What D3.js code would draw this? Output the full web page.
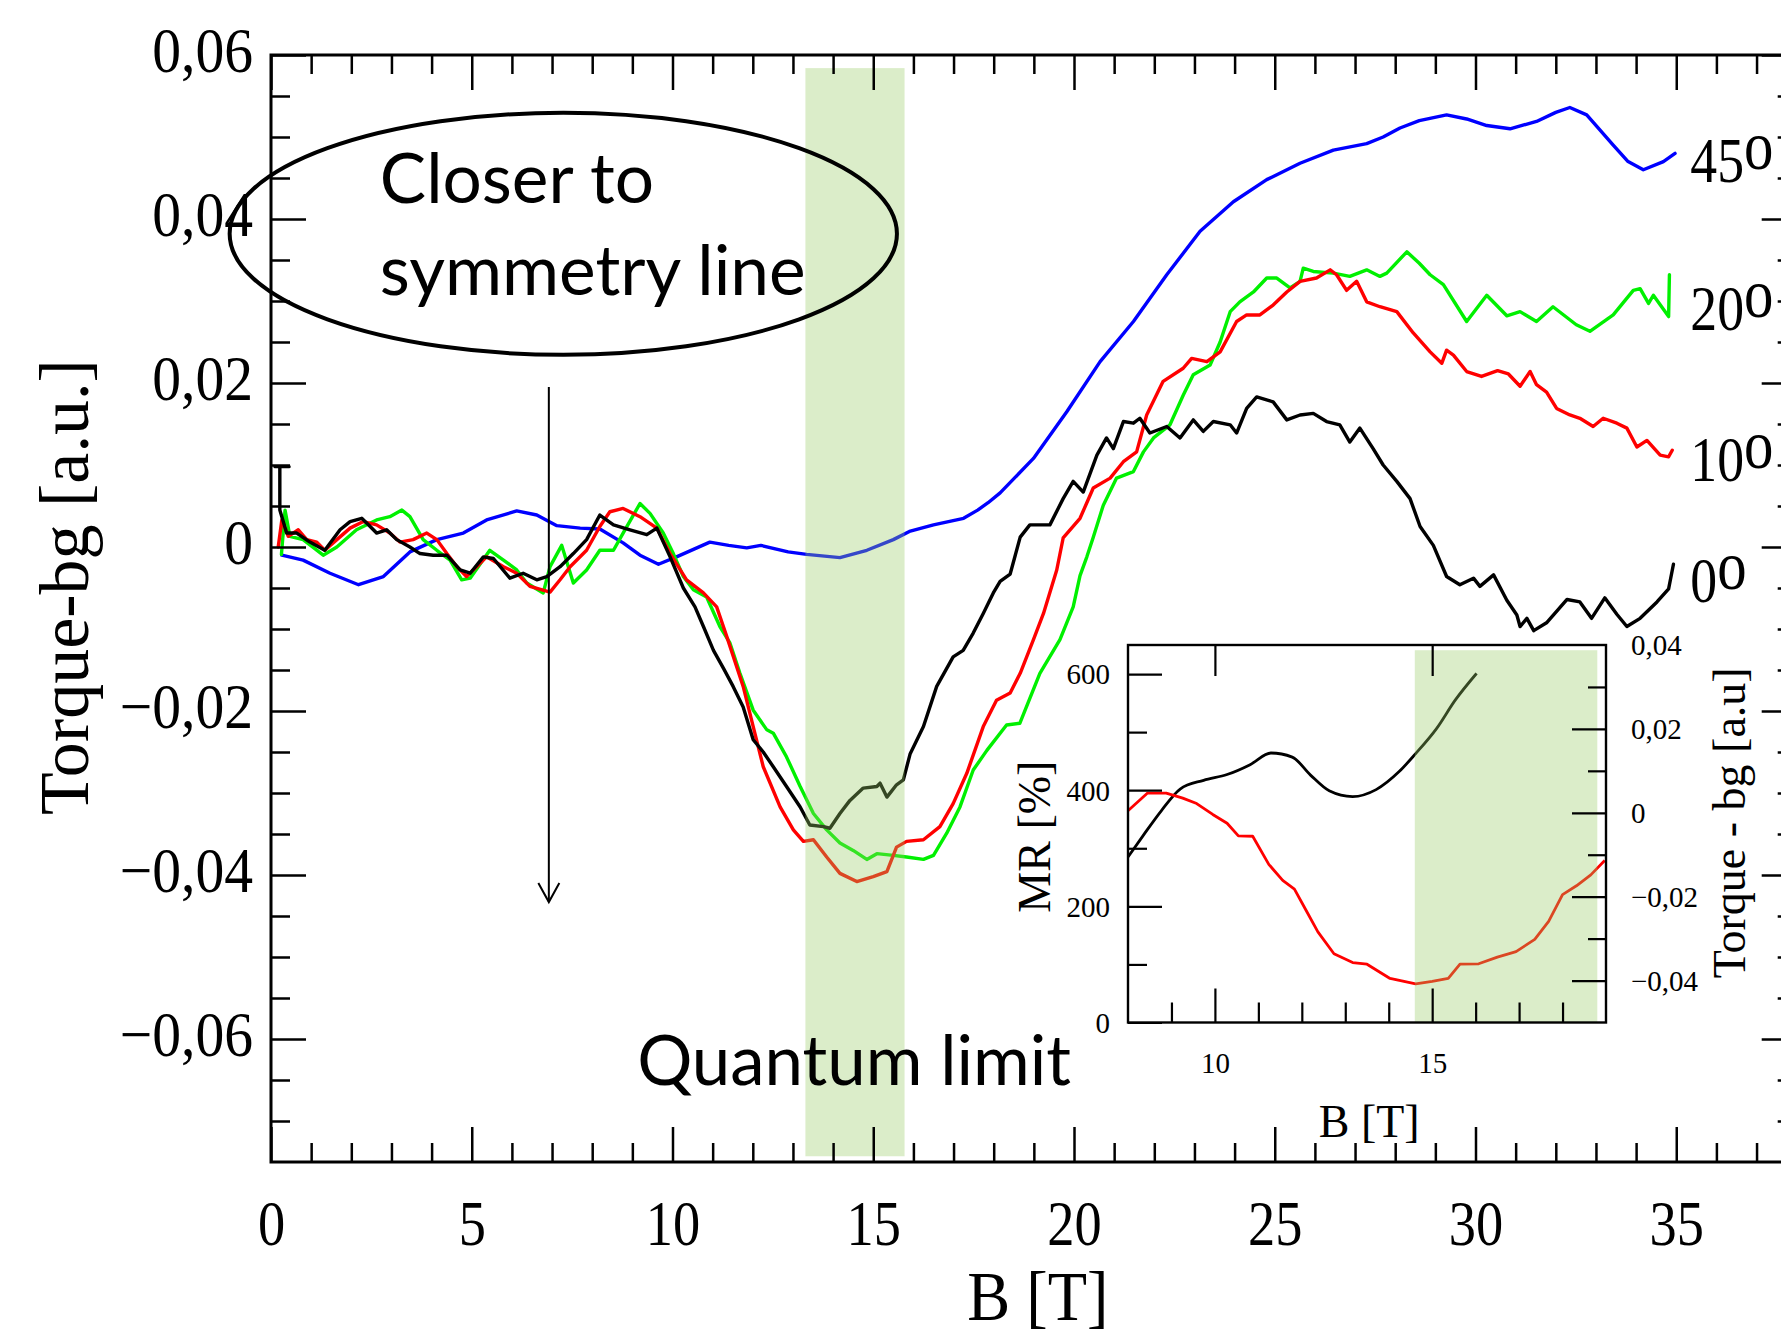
<!DOCTYPE html>
<html><head><meta charset="utf-8">
<script src="https://cdn.jsdelivr.net/npm/d3@7/dist/d3.min.js"></script>
<style>html,body{margin:0;padding:0;background:#fff;} svg{display:block;}</style>
</head><body>
<svg id="chart" width="1781" height="1340"></svg>
<script>
// ---------------- DATA ----------------
// Main panel: Torque-bg [a.u.] vs B [T]
const seriesNames = ["45", "20", "10", "0"];
const seriesColors = ["#0000ff", "#00f000", "#ff0000", "#000000"];

const blue45 = [[0.27,-0.0010],[0.8,-0.0016],[1.47,-0.0032],[2.18,-0.0046],[2.8,-0.0036],[3.46,-0.0006],[4.13,0.0009],[4.79,0.0017],[5.37,0.0033],[6.12,0.0044],[6.62,0.0039],[7.12,0.0026],[7.7,0.0023],[8.19,0.0022],[8.77,0.0005],[9.19,-0.0010],[9.65,-0.0021],[10.1,-0.0012],[10.93,0.0006],[11.4,0.0002],[11.85,-0.0001],[12.2,0.0002],[12.88,-0.0006],[13.34,-0.0009],[14.17,-0.0013],[14.84,-0.0004],[15.5,0.0009],[15.9,0.0019],[16.5,0.0027],[17.25,0.0035],[17.6,0.0045],[17.86,0.0054],[18.16,0.0066],[18.99,0.0108],[19.82,0.0165],[20.65,0.0226],[21.48,0.0275],[22.31,0.0332],[23.14,0.0385],[23.97,0.0421],[24.8,0.0448],[25.63,0.0468],[26.46,0.0484],[27.29,0.0492],[27.7,0.0500],[28.12,0.0511],[28.6,0.0520],[29.28,0.0527],[29.78,0.0522],[30.28,0.0514],[30.86,0.0510],[31.52,0.0519],[32.0,0.0530],[32.35,0.0536],[32.77,0.0527],[33.43,0.0490],[33.8,0.0470],[34.18,0.0460],[34.68,0.0470],[34.97,0.0480]];

const green20 = [[0.26,-0.0009],[0.35,0.0045],[0.47,0.0013],[0.8,0.0009],[1.3,-0.0010],[1.64,0.0],[2.13,0.0021],[2.63,0.0033],[2.96,0.0037],[3.26,0.0045],[3.46,0.0037],[3.79,0.0009],[4.13,-0.0004],[4.46,-0.0016],[4.75,-0.0040],[4.96,-0.0038],[5.45,-0.0004],[5.79,-0.0016],[6.12,-0.0028],[6.37,-0.0044],[6.78,-0.0056],[6.95,-0.0024],[7.24,0.0002],[7.53,-0.0044],[7.86,-0.0028],[8.19,-0.0004],[8.53,-0.0004],[8.77,0.0017],[9.19,0.0053],[9.44,0.0041],[9.77,0.0017],[10.02,-0.0008],[10.27,-0.0036],[10.52,-0.0052],[10.85,-0.0061],[11.18,-0.0097],[11.43,-0.0117],[11.68,-0.0154],[12.01,-0.0199],[12.35,-0.0223],[12.51,-0.0227],[12.84,-0.0256],[13.18,-0.0292],[13.51,-0.0325],[13.84,-0.0345],[14.17,-0.0361],[14.5,-0.0370],[14.84,-0.0381],[15.09,-0.0374],[15.5,-0.0376],[15.83,-0.0378],[16.25,-0.0381],[16.5,-0.0376],[16.83,-0.0349],[17.16,-0.0317],[17.49,-0.0272],[17.83,-0.0248],[18.32,-0.0217],[18.65,-0.0215],[19.15,-0.0154],[19.65,-0.0113],[19.98,-0.0073],[20.15,-0.0035],[20.32,-0.0012],[20.48,0.0012],[20.73,0.0051],[21.06,0.0084],[21.48,0.0092],[21.73,0.0116],[21.98,0.0133],[22.39,0.0149],[22.72,0.0185],[22.97,0.0210],[23.39,0.0222],[23.64,0.0250],[23.89,0.0287],[24.13,0.0299],[24.47,0.0311],[24.8,0.0328],[25.05,0.0328],[25.38,0.0316],[25.63,0.0324],[25.71,0.0340],[25.96,0.0336],[26.46,0.0334],[26.87,0.0330],[27.29,0.0338],[27.62,0.0330],[27.79,0.0334],[28.29,0.0360],[28.6,0.0346],[28.87,0.0332],[29.2,0.0320],[29.78,0.0275],[30.28,0.0307],[30.78,0.0282],[31.11,0.0287],[31.52,0.0275],[31.93,0.0293],[32.51,0.0271],[32.85,0.0263],[33.43,0.0283],[33.93,0.0313],[34.1,0.0315],[34.31,0.0297],[34.43,0.0307],[34.81,0.0281],[34.83,0.0332]];

const red10 = [[0.18,0.0],[0.27,0.0033],[0.43,0.0013],[0.68,0.0021],[0.89,0.0009],[1.14,0.0006],[1.34,-0.0004],[1.64,0.0009],[1.97,0.0023],[2.3,0.0031],[2.63,0.0027],[2.96,0.0017],[3.21,0.0006],[3.54,0.0009],[3.88,0.0017],[4.13,0.0009],[4.38,-0.0008],[4.63,-0.0024],[4.87,-0.0036],[5.12,-0.0024],[5.37,-0.0012],[5.79,-0.0024],[6.12,-0.0032],[6.45,-0.0048],[6.95,-0.0055],[7.2,-0.0040],[7.45,-0.0024],[7.86,-0.0004],[8.19,0.0025],[8.44,0.0043],[8.77,0.0047],[9.19,0.0037],[9.61,0.0023],[9.94,-0.0008],[10.35,-0.0040],[10.77,-0.0056],[11.1,-0.0073],[11.35,-0.0109],[11.76,-0.0170],[12.01,-0.0219],[12.26,-0.0268],[12.68,-0.0317],[13.01,-0.0345],[13.26,-0.0359],[13.51,-0.0357],[13.84,-0.0378],[14.17,-0.0398],[14.59,-0.0408],[15.0,-0.0402],[15.34,-0.0396],[15.58,-0.0366],[15.83,-0.0359],[16.25,-0.0357],[16.66,-0.0341],[16.99,-0.0313],[17.33,-0.0276],[17.74,-0.0219],[18.07,-0.0187],[18.41,-0.0178],[18.66,-0.0154],[18.99,-0.0113],[19.24,-0.0081],[19.57,-0.0028],[19.73,0.0011],[20.15,0.0035],[20.48,0.0072],[20.9,0.0084],[21.23,0.0104],[21.56,0.0116],[21.81,0.0161],[22.22,0.0202],[22.72,0.0218],[22.93,0.0230],[23.31,0.0226],[23.64,0.0238],[24.05,0.0275],[24.3,0.0283],[24.63,0.0283],[24.96,0.0295],[25.3,0.0311],[25.63,0.0324],[26.04,0.0328],[26.38,0.0338],[26.54,0.0332],[26.79,0.0313],[27.04,0.0324],[27.29,0.0299],[27.62,0.0293],[28.04,0.0287],[28.45,0.0261],[28.87,0.0238],[29.16,0.0224],[29.28,0.0240],[29.45,0.0234],[29.78,0.0214],[30.15,0.0208],[30.55,0.0215],[30.82,0.0211],[31.11,0.0196],[31.36,0.0214],[31.52,0.0198],[31.77,0.0189],[32.02,0.0169],[32.35,0.0161],[32.6,0.0157],[32.93,0.0147],[33.18,0.0157],[33.52,0.0151],[33.77,0.0145],[34.02,0.0122],[34.27,0.0130],[34.6,0.0112],[34.81,0.0110],[34.9,0.0118]];

const black0 = [[0.1,0.0098],[0.45,0.0098],[0.22,0.0098],[0.22,0.0045],[0.39,0.0017],[0.64,0.0017],[0.97,0.0006],[1.34,-0.0004],[1.72,0.0021],[1.97,0.0031],[2.26,0.0035],[2.47,0.0025],[2.63,0.0017],[2.88,0.0021],[3.13,0.0009],[3.46,0.0],[3.71,-0.0008],[4.04,-0.0010],[4.38,-0.0010],[4.71,-0.0028],[4.96,-0.0032],[5.29,-0.0012],[5.54,-0.0014],[5.95,-0.0038],[6.28,-0.0032],[6.62,-0.0040],[6.87,-0.0036],[7.2,-0.0024],[7.53,-0.0008],[7.86,0.0009],[8.19,0.0039],[8.53,0.0027],[8.94,0.0021],[9.36,0.0015],[9.61,0.0023],[9.94,-0.0012],[10.27,-0.0050],[10.56,-0.0073],[10.77,-0.0097],[11.02,-0.0126],[11.27,-0.0148],[11.51,-0.0170],[11.76,-0.0195],[12.01,-0.0235],[12.26,-0.0250],[12.51,-0.0268],[12.84,-0.0292],[13.18,-0.0317],[13.42,-0.0339],[13.76,-0.0341],[13.92,-0.0343],[14.17,-0.0325],[14.42,-0.0309],[14.75,-0.0294],[15.09,-0.0292],[15.17,-0.0288],[15.34,-0.0305],[15.58,-0.0290],[15.75,-0.0284],[15.92,-0.0252],[16.25,-0.0219],[16.58,-0.0170],[16.99,-0.0134],[17.24,-0.0126],[17.49,-0.0105],[17.74,-0.0081],[17.99,-0.0056],[18.16,-0.0042],[18.41,-0.0033],[18.66,0.0012],[18.9,0.0027],[19.4,0.0027],[19.73,0.0059],[19.98,0.0080],[20.23,0.0067],[20.57,0.0112],[20.81,0.0133],[20.98,0.0120],[21.23,0.0153],[21.48,0.0151],[21.64,0.0157],[21.89,0.0139],[22.31,0.0147],[22.64,0.0133],[22.97,0.0155],[23.22,0.0141],[23.47,0.0153],[23.89,0.0149],[24.05,0.0139],[24.3,0.0169],[24.55,0.0183],[24.96,0.0177],[25.3,0.0155],[25.63,0.0161],[25.96,0.0163],[26.29,0.0153],[26.62,0.0149],[26.87,0.0128],[27.12,0.0145],[27.45,0.0120],[27.7,0.0100],[28.04,0.0080],[28.37,0.0059],[28.62,0.0025],[28.95,0.0002],[29.28,-0.0036],[29.61,-0.0046],[29.95,-0.0038],[30.11,-0.0048],[30.45,-0.0034],[30.78,-0.0065],[31.03,-0.0083],[31.11,-0.0097],[31.28,-0.0087],[31.45,-0.0102],[31.78,-0.0092],[32.28,-0.0064],[32.6,-0.0067],[32.89,-0.0087],[33.22,-0.0062],[33.52,-0.0082],[33.77,-0.0097],[34.1,-0.0087],[34.52,-0.0067],[34.81,-0.0051],[34.93,-0.0021]];

const seriesData = [blue45, green20, red10, black0];
const seriesLabelY = [0.0445, 0.0265, 0.0081, -0.0067];   // label baselines (data units)
const seriesLabelX = 35.35;

// Main axes ticks
const xMajorTicks = [0, 5, 10, 15, 20, 25, 30, 35];
const xMinorTicks = d3.range(1, 38).filter(v => v % 5 !== 0);
const yMajorTicks = [-0.06, -0.04, -0.02, 0, 0.02, 0.04, 0.06];
const yMinorTicks = d3.range(-14, 12).filter(k => k % 4 !== 0).map(k => k * 0.005);
const yTickLabels = ["\u22120,06", "\u22120,04", "\u22120,02", "0", "0,02", "0,04", "0,06"];

// Quantum limit band (B range) and annotations
const qlBand = [13.31, 15.78];
const qlBandY = [-0.0743, 0.0584];
const ellipseC = [7.28, 0.0382];
const ellipseR = [8.31, 0.01476];
const arrowX = 6.92, arrowY = [0.0195, -0.0433];

// Inset: MR [%] (black, left axis) and Torque-bg (red, right axis) vs B [T]
const insetMR = [[8.0,285],[8.34,321],[8.77,365],[9.2,402],[9.74,417],[10.28,427],[10.81,444],[11.29,464],[11.78,457],[12.2,426],[12.63,399],[13.17,389],[13.71,401],[14.24,432],[14.62,463],[15.1,506],[15.53,555],[16.02,601]];
const insetTorque = [[8.0,0.0005],[8.45,0.0047],[8.88,0.0047],[9.26,0.0035],[9.58,0.0022],[9.95,-0.0004],[10.28,-0.0025],[10.54,-0.0055],[10.87,-0.0056],[11.24,-0.0123],[11.56,-0.0161],[11.83,-0.0182],[12.1,-0.0233],[12.37,-0.0284],[12.74,-0.0336],[13.17,-0.0357],[13.5,-0.0361],[14.03,-0.0395],[14.62,-0.0408],[15.0,-0.0402],[15.37,-0.0395],[15.64,-0.0361],[16.07,-0.0360],[16.5,-0.0344],[16.93,-0.0331],[17.36,-0.0302],[17.68,-0.0259],[18.0,-0.0195],[18.32,-0.0174],[18.65,-0.0148],[18.97,-0.0114]];
const insetBand = [14.6, 18.8];
const insetBandTop = 641;
const insetXMajor = [10, 15];
const insetXMinor = [9, 11, 12, 13, 14, 16, 17, 18];
const insetMRMajor = [0, 200, 400, 600];
const insetMRMinor = [100, 300, 500];
const insetTMajor = [-0.04, -0.02, 0, 0.02];
const insetTMinor = [-0.03, -0.01, 0.01, 0.03];
const insetTLabels = [-0.04, -0.02, 0, 0.02, 0.04];

// ---------------- DRAW ----------------
const svg = d3.select("#chart");
const SERIF = "'Liberation Serif','Times New Roman',Times,serif";
const SANS = "Lato,'Open Sans',sans-serif";

const x = d3.scaleLinear().domain([0, 38]).range([271, 1796.7]);
const y = d3.scaleLinear().domain([-0.075, 0.06]).range([1162, 55]);

const commaFmt = v => {
  if (Math.abs(v) < 1e-9) return "0";
  return (v < 0 ? "\u2212" : "") + Math.abs(v).toFixed(2).replace(".", ",");
};

function cleanAxis(g, lw) {
  g.select(".domain").remove();
  g.selectAll(".tick line").attr("stroke", "#000").attr("stroke-width", lw);
}

// curves
const line = d3.line().x(d => x(d[0])).y(d => y(d[1])).curve(d3.curveLinear);
seriesData.forEach((data, i) => {
  svg.append("path").datum(data).attr("d", line)
    .attr("fill", "none").attr("stroke", seriesColors[i])
    .attr("stroke-width", 3.4).attr("stroke-linejoin", "round").attr("stroke-linecap", "round");
});

// quantum-limit band (translucent overlay)
svg.append("rect")
  .attr("x", x(qlBand[0])).attr("width", x(qlBand[1]) - x(qlBand[0]))
  .attr("y", y(qlBandY[1])).attr("height", y(qlBandY[0]) - y(qlBandY[1]))
  .attr("fill", "rgb(152,204,101)").attr("fill-opacity", 0.35);

// axes
const gB = svg.append("g").attr("transform", `translate(0,${y(-0.075)})`)
  .call(d3.axisBottom(x).tickValues(xMajorTicks).tickSize(-35).tickPadding(38).tickFormat(d => d));
cleanAxis(gB, 2.5);
gB.selectAll("text").attr("font-family", SERIF).attr("font-size", 64).attr("fill", "#000")
  .attr("transform", "scale(0.85,1)");
const gBm = svg.append("g").attr("transform", `translate(0,${y(-0.075)})`)
  .call(d3.axisBottom(x).tickValues(xMinorTicks).tickSize(-19).tickFormat(""));
cleanAxis(gBm, 2.5);

const gT = svg.append("g").attr("transform", `translate(0,${y(0.06)})`)
  .call(d3.axisTop(x).tickValues(xMajorTicks).tickSize(-35).tickFormat(""));
cleanAxis(gT, 2.5);
const gTm = svg.append("g").attr("transform", `translate(0,${y(0.06)})`)
  .call(d3.axisTop(x).tickValues(xMinorTicks).tickSize(-19).tickFormat(""));
cleanAxis(gTm, 2.5);

const gL = svg.append("g").attr("transform", `translate(${x(0)},0)`)
  .call(d3.axisLeft(y).tickValues(yMajorTicks).tickSize(-35).tickPadding(20)
    .tickFormat((d, i) => yTickLabels[i]));
cleanAxis(gL, 2.5);
gL.selectAll("text").attr("font-family", SERIF).attr("font-size", 64).attr("fill", "#000")
  .attr("dy", "0.26em").attr("transform", "scale(0.9,1)");
const gLm = svg.append("g").attr("transform", `translate(${x(0)},0)`)
  .call(d3.axisLeft(y).tickValues(yMinorTicks).tickSize(-19).tickFormat(""));
cleanAxis(gLm, 2.5);

const gR = svg.append("g").attr("transform", `translate(${x(38)},0)`)
  .call(d3.axisRight(y).tickValues(yMajorTicks).tickSize(-35).tickFormat(""));
cleanAxis(gR, 2.5);
const gRm = svg.append("g").attr("transform", `translate(${x(38)},0)`)
  .call(d3.axisRight(y).tickValues(yMinorTicks).tickSize(-19).tickFormat(""));
cleanAxis(gRm, 2.5);

// frame
svg.append("rect").attr("x", x(0)).attr("y", y(0.06))
  .attr("width", x(38) - x(0)).attr("height", y(-0.075) - y(0.06))
  .attr("fill", "none").attr("stroke", "#000").attr("stroke-width", 3);

// axis titles
svg.append("text").attr("transform", `translate(${x(19.1)},1320) scale(0.92,1)`)
  .attr("text-anchor", "middle").attr("font-family", SERIF).attr("font-size", 70)
  .attr("fill", "#000").text("B [T]");
svg.append("text").attr("transform", `translate(88,${y(-0.0049)}) rotate(-90)`)
  .attr("text-anchor", "middle").attr("font-family", SERIF).attr("font-size", 70)
  .attr("fill", "#000").text("Torque-bg [a.u.]");

// series labels
seriesNames.forEach((n, i) => {
  const t = svg.append("text")
    .attr("transform", `translate(${x(seriesLabelX)},${y(seriesLabelY[i])}) scale(0.84,1)`)
    .attr("font-family", SERIF).attr("font-size", 64).attr("fill", "#000");
  t.append("tspan").text(n);
  t.append("tspan").attr("dy", -13).attr("font-size", 70).text("o");
});

// ellipse annotation
svg.append("ellipse")
  .attr("cx", x(ellipseC[0])).attr("cy", y(ellipseC[1]))
  .attr("rx", x(ellipseC[0] + ellipseR[0]) - x(ellipseC[0]))
  .attr("ry", y(ellipseC[1] - ellipseR[1]) - y(ellipseC[1]))
  .attr("fill", "none").attr("stroke", "#000").attr("stroke-width", 4);

function fitText(sel, target) {
  const len = sel.node().getComputedTextLength();
  const fs = +sel.attr("font-size") * target / len;
  sel.attr("font-size", fs);
  return fs;
}
const t2 = svg.append("text").attr("x", x(2.71)).attr("y", y(0.0307))
  .attr("font-family", SANS).attr("font-size", 66).attr("fill", "#000").text("symmetry line");
const fs2 = fitText(t2, 426);
svg.append("text").attr("x", x(2.71)).attr("y", y(0.0420))
  .attr("font-family", SANS).attr("font-size", fs2).attr("fill", "#000").text("Closer to");
const t3 = svg.append("text").attr("x", x(9.12)).attr("y", y(-0.0656))
  .attr("font-family", SANS).attr("font-size", 70).attr("fill", "#000").text("Quantum limit");
fitText(t3, 434);

// arrow
const ax = x(arrowX), ay0 = y(arrowY[0]), ay1 = y(arrowY[1]);
svg.append("line").attr("x1", ax).attr("x2", ax).attr("y1", ay0).attr("y2", ay1)
  .attr("stroke", "#000").attr("stroke-width", 2);
svg.append("path").attr("d", `M${ax - 10.5},${ay1 - 19}L${ax},${ay1}L${ax + 10.5},${ay1 - 19}`)
  .attr("fill", "none").attr("stroke", "#000").attr("stroke-width", 2);

// ---------------- INSET ----------------
const xi = d3.scaleLinear().domain([8, 19]).range([1128, 1606]);
const yMR = d3.scaleLinear().domain([0, 650]).range([1022.5, 645]);
const yTq = d3.scaleLinear().domain([-0.05, 0.04]).range([1022.5, 645]);

svg.append("rect").attr("x", xi(8)).attr("y", yMR(650))
  .attr("width", xi(19) - xi(8)).attr("height", yMR(0) - yMR(650)).attr("fill", "#fff");

svg.append("path").datum(insetMR)
  .attr("d", d3.line().x(d => xi(d[0])).y(d => yMR(d[1])).curve(d3.curveMonotoneX))
  .attr("fill", "none").attr("stroke", "#000").attr("stroke-width", 2.8).attr("stroke-linejoin", "round");
svg.append("path").datum(insetTorque)
  .attr("d", d3.line().x(d => xi(d[0])).y(d => yTq(d[1])))
  .attr("fill", "none").attr("stroke", "#ff0000").attr("stroke-width", 2.8).attr("stroke-linejoin", "round");

svg.append("rect").attr("x", xi(insetBand[0])).attr("width", xi(insetBand[1]) - xi(insetBand[0]))
  .attr("y", yMR(insetBandTop)).attr("height", yMR(0) - yMR(insetBandTop))
  .attr("fill", "rgb(152,204,101)").attr("fill-opacity", 0.35);

const iB = svg.append("g").attr("transform", `translate(0,${yMR(0)})`)
  .call(d3.axisBottom(xi).tickValues(insetXMajor).tickSize(-34).tickPadding(30).tickFormat(d => d));
cleanAxis(iB, 2.2);
iB.selectAll("text").attr("font-family", SERIF).attr("font-size", 29).attr("fill", "#000");
const iBm = svg.append("g").attr("transform", `translate(0,${yMR(0)})`)
  .call(d3.axisBottom(xi).tickValues(insetXMinor).tickSize(-20).tickFormat(""));
cleanAxis(iBm, 2.2);
const iT = svg.append("g").attr("transform", `translate(0,${yMR(650)})`)
  .call(d3.axisTop(xi).tickValues(insetXMajor).tickSize(-31).tickFormat(""));
cleanAxis(iT, 2.2);

const iL = svg.append("g").attr("transform", `translate(${xi(8)},0)`)
  .call(d3.axisLeft(yMR).tickValues(insetMRMajor).tickSize(-34).tickPadding(18).tickFormat(d => d));
cleanAxis(iL, 2.2);
iL.selectAll("text").attr("font-family", SERIF).attr("font-size", 29).attr("fill", "#000").attr("dy", "0.34em");
const iLm = svg.append("g").attr("transform", `translate(${xi(8)},0)`)
  .call(d3.axisLeft(yMR).tickValues(insetMRMinor).tickSize(-19).tickFormat(""));
cleanAxis(iLm, 2.2);

const iR = svg.append("g").attr("transform", `translate(${xi(19)},0)`)
  .call(d3.axisRight(yTq).tickValues(insetTMajor).tickSize(-34).tickFormat(""));
cleanAxis(iR, 2.2);
const iRm = svg.append("g").attr("transform", `translate(${xi(19)},0)`)
  .call(d3.axisRight(yTq).tickValues(insetTMinor).tickSize(-18).tickFormat(""));
cleanAxis(iRm, 2.2);
const iRl = svg.append("g").attr("transform", `translate(${xi(19)},0)`)
  .call(d3.axisRight(yTq).tickValues(insetTLabels).tickSize(0).tickPadding(25).tickFormat(commaFmt));
iRl.select(".domain").remove();
iRl.selectAll("line").remove();
iRl.selectAll("text").attr("font-family", SERIF).attr("font-size", 29).attr("fill", "#000").attr("dy", "0.34em");

svg.append("rect").attr("x", xi(8)).attr("y", yMR(650))
  .attr("width", xi(19) - xi(8)).attr("height", yMR(0) - yMR(650))
  .attr("fill", "none").attr("stroke", "#000").attr("stroke-width", 2.4);

svg.append("text").attr("x", xi(13.55)).attr("y", 1137).attr("text-anchor", "middle")
  .attr("font-family", SERIF).attr("font-size", 46).attr("fill", "#000").text("B [T]");
svg.append("text").attr("transform", `translate(1050,${yMR(320)}) rotate(-90)`)
  .attr("text-anchor", "middle").attr("font-family", SERIF).attr("font-size", 46)
  .attr("fill", "#000").text("MR [%]");
svg.append("text").attr("transform", `translate(1745,${yTq(-0.0024)}) rotate(-90)`)
  .attr("text-anchor", "middle").attr("font-family", SERIF).attr("font-size", 46)
  .attr("fill", "#000").text("Torque - bg [a.u]");
</script></body></html>
